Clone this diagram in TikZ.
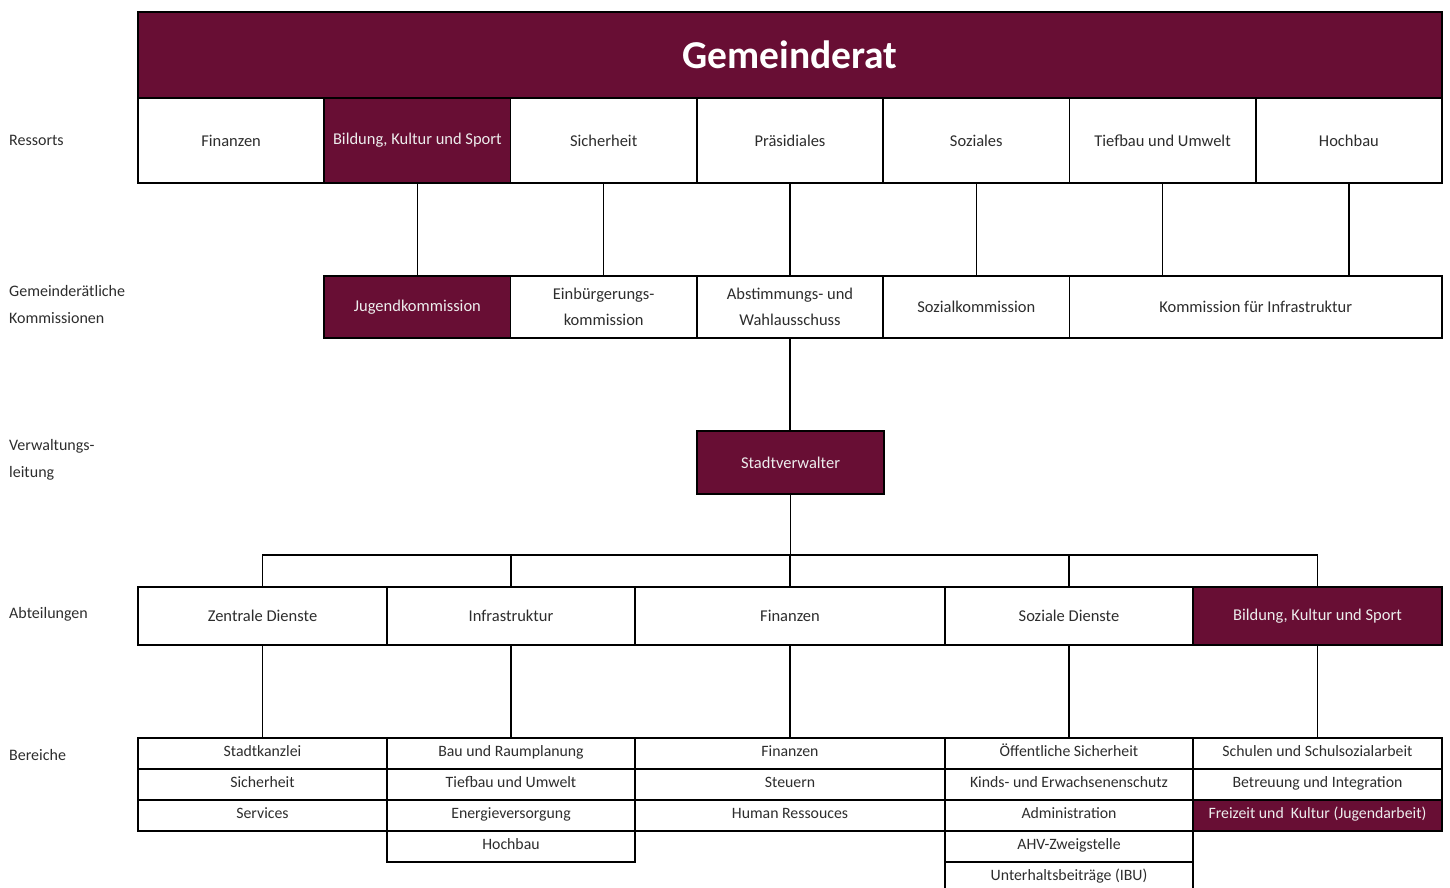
\documentclass[tikz,border=0pt]{standalone}
\usepackage{fontspec}
\setmainfont{Carlito}
\definecolor{maroon}{RGB}{104,14,52}
\definecolor{txt}{RGB}{45,45,45}
\begin{document}
\begin{tikzpicture}[x=1pt,y=-1pt,
  box/.style={draw=black,line width=1.6pt,fill=white,inner sep=0pt,text=txt,
    font=\fontsize{16.5}{26}\selectfont,align=center},
  hl/.style={box,fill=maroon,text=white!93!black},
  cell/.style={box,font=\fontsize{15.8}{16}\selectfont,text height=0.72em,text depth=0.22em},
  lab/.style={anchor=west,inner sep=0pt,text=txt,align=left,
    font=\fontsize{16}{27}\selectfont},
  conn/.style={line width=1.4pt,draw=black}]
\useasboundingbox (0,0) rectangle (1450,888);
% Gemeinderat
\node[hl,minimum width=1304,minimum height=86,font=\fontsize{39.5}{42}\bfseries,text=white] (gr) at (790,55) {Gemeinderat};
% Ressorts
\def\rw{186.29}
\node[box,minimum width=\rw,minimum height=85] (r1) at (231.1,140.5) {Finanzen};
\node[hl,minimum width=\rw,minimum height=85] (r2) at (417.4,140.5) {Bildung, Kultur und Sport};
\node[box,minimum width=\rw,minimum height=85] (r3) at (603.7,140.5) {Sicherheit};
\node[box,minimum width=\rw,minimum height=85] (r4) at (790.0,140.5) {Präsidiales};
\node[box,minimum width=\rw,minimum height=85] (r5) at (976.3,140.5) {Soziales};
\node[box,minimum width=\rw,minimum height=85] (r6) at (1162.6,140.5) {Tiefbau und Umwelt};
\node[box,minimum width=\rw,minimum height=85] (r7) at (1348.9,140.5) {Hochbau};
% Kommissionen
\node[hl,minimum width=\rw,minimum height=62] (k1) at (417.4,307) {Jugendkommission};
\node[box,minimum width=\rw,minimum height=62] (k2) at (603.7,307) {Einbürgerungs-\\kommission};
\node[box,minimum width=\rw,minimum height=62] (k3) at (790.0,307) {Abstimmungs- und\\Wahlausschuss};
\node[box,minimum width=\rw,minimum height=62] (k4) at (976.3,307) {Sozialkommission};
\node[box,minimum width=372.6,minimum height=62] (k5) at (1255.7,307) {Kommission für Infrastruktur};
% Stadtverwalter
\node[hl,minimum width=187,minimum height=63] (sv) at (790.5,462.5) {Stadtverwalter};
% Abteilungen
\node[box,minimum width=249,minimum height=58] (a1) at (262.5,616) {Zentrale Dienste};
\node[box,minimum width=248,minimum height=58] (a2) at (511,616) {Infrastruktur};
\node[box,minimum width=310,minimum height=58] (a3) at (790,616) {Finanzen};
\node[box,minimum width=248,minimum height=58] (a4) at (1069,616) {Soziale Dienste};
\node[hl,minimum width=249,minimum height=58] (a5) at (1317.5,616) {Bildung, Kultur und Sport};
% Bereiche
\begin{scope}[every node/.style={minimum height=31}]
\node[cell,minimum width=249] (b11) at (262.5,753.5) {Stadtkanzlei};
\node[cell,minimum width=249] (b12) at (262.5,784.5) {Sicherheit};
\node[cell,minimum width=249] (b13) at (262.5,815.5) {Services};
\node[cell,minimum width=248] (b21) at (511,753.5) {Bau und Raumplanung};
\node[cell,minimum width=248] (b22) at (511,784.5) {Tiefbau und Umwelt};
\node[cell,minimum width=248] (b23) at (511,815.5) {Energieversorgung};
\node[cell,minimum width=248] (b24) at (511,846.5) {Hochbau};
\node[cell,minimum width=310] (b31) at (790,753.5) {Finanzen};
\node[cell,minimum width=310] (b32) at (790,784.5) {Steuern};
\node[cell,minimum width=310] (b33) at (790,815.5) {Human Ressouces};
\node[cell,minimum width=248] (b41) at (1069,753.5) {Öffentliche Sicherheit};
\node[cell,minimum width=248] (b42) at (1069,784.5) {Kinds- und Erwachsenenschutz};
\node[cell,minimum width=248] (b43) at (1069,815.5) {Administration};
\node[cell,minimum width=248] (b44) at (1069,846.5) {AHV-Zweigstelle};
\node[cell,minimum width=248] (b45) at (1069,877.5) {Unterhaltsbeiträge (IBU)};
\node[cell,minimum width=249] (b51) at (1317.5,753.5) {Schulen und Schulsozialarbeit};
\node[cell,minimum width=249] (b52) at (1317.5,784.5) {Betreuung und Integration};
\node[cell,hl,minimum width=249,font=\fontsize{15.8}{16}\selectfont,text height=0.72em,text depth=0.22em] (b53) at (1317.5,815.5) {Freizeit und\ \ Kultur (Jugendarbeit)};
\end{scope}
% Labels
\node[lab] (l1) at (9,140) {Ressorts};
\node[lab] (l2) at (9,305) {Gemeinderätliche\\Kommissionen};
\node[lab] (l3) at (9,460) {Verwaltungs-\\leitung};
\node[lab] (l4) at (9,614) {Abteilungen};
\node[lab] (l5) at (9,755) {Bereiche};
% Connectors
\draw[conn] (r2.south) -- (k1.north);
\draw[conn] (r3.south) -- (k2.north);
\draw[conn] (r4.south) -- (k3.north);
\draw[conn] (r5.south) -- (k4.north);
\draw[conn] (r6.south) -- (r6.south |- k5.north);
\draw[conn] (r7.south) -- (r7.south |- k5.north);
\draw[conn] (k3.south) -- (k3.south |- sv.north);
\coordinate (bus) at (790.5,555);
\draw[conn] (sv.south) -- (bus);
\draw[conn] (a1.north) -- (a1.north |- bus) -- (a5.north |- bus) -- (a5.north);
\draw[conn] (a2.north) -- (a2.north |- bus);
\draw[conn] (a3.north) -- (a3.north |- bus);
\draw[conn] (a4.north) -- (a4.north |- bus);
\draw[conn] (a1.south) -- (b11.north);
\draw[conn] (a2.south) -- (b21.north);
\draw[conn] (a3.south) -- (b31.north);
\draw[conn] (a4.south) -- (b41.north);
\draw[conn] (a5.south) -- (b51.north);
\end{tikzpicture}
\end{document}
